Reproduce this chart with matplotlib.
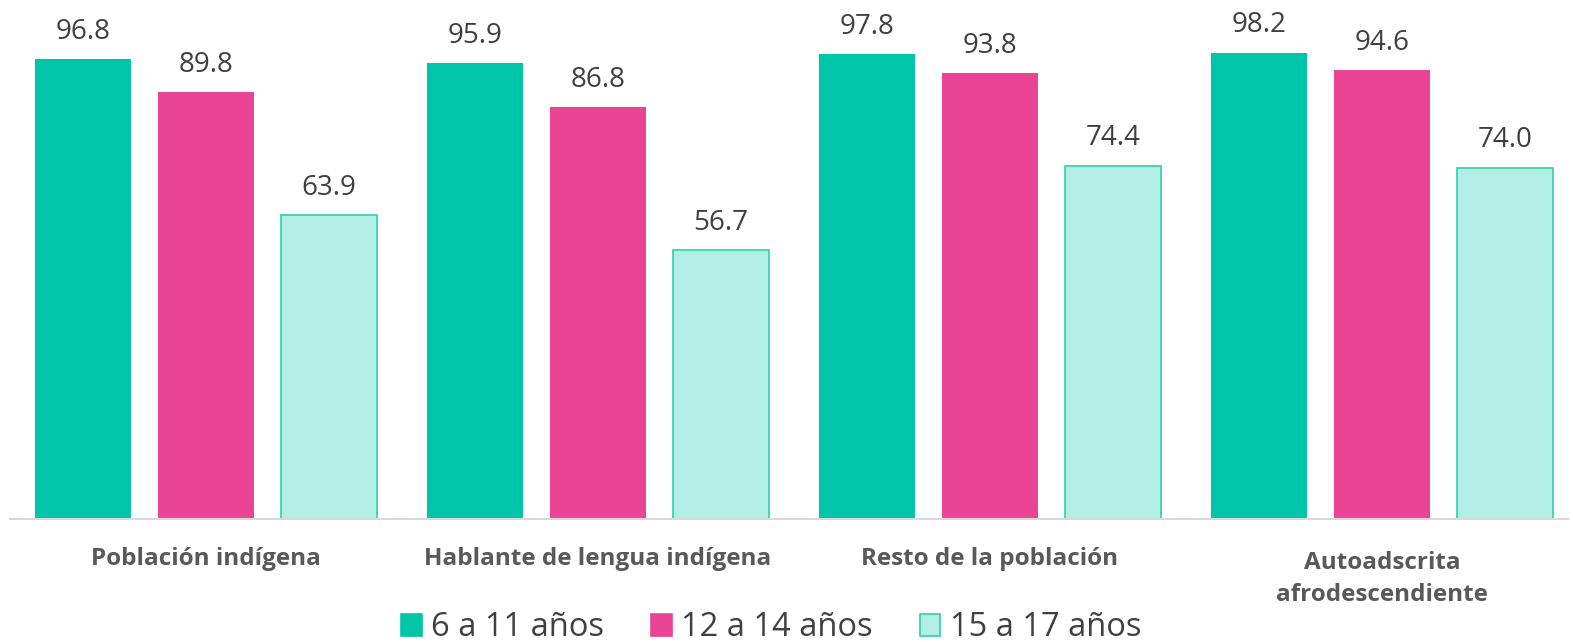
import numpy as np
import matplotlib; matplotlib.use("Agg")
import matplotlib.pyplot as plt
from matplotlib.patches import Patch

categories = ["Población indígena", "Hablante de lengua indígena",
              "Resto de la población", "Autoadscrita\nafrodescendiente"]
series_names = ["6 a 11 años", "12 a 14 años", "15 a 17 años"]
v_6_11 = [96.8, 95.9, 97.8, 98.2]
v_12_14 = [89.8, 86.8, 93.8, 94.6]
v_15_17 = [63.9, 56.7, 74.4, 74.0]

plt.rcParams["font.family"] = ["Open Sans", "DejaVu Sans"]
fills = ["#00C6A7", "#E94496", "#B3EEE4"]
edges = ["#00C6A7", "#E94496", "#2DD0B0"]

fig = plt.figure(figsize=(15.73, 6.42), dpi=100)
ax = fig.add_axes([10 / 1573, 123 / 642, 1558 / 1573, 475 / 642])
x = np.arange(len(categories))
w = 96 / 392; off = 123 / 392
for k, vals in enumerate([v_6_11, v_12_14, v_15_17]):
    bars = ax.bar(x + (k - 1) * off, vals, w, color=fills[k], edgecolor=edges[k],
                  linewidth=1.2 if k == 2 else 0, label=series_names[k])
    for b, v in zip(bars, vals):
        ax.annotate(f"{v:.1f}", (b.get_x() + b.get_width() / 2, v), xytext=(0, 14.5),
                    textcoords="offset points", ha="center", va="baseline",
                    fontsize=20, color="#404040")

ax.set_xlim(-0.5, 3 + 186 / 392); ax.set_ylim(0, 100)
ax.set_yticks([]); ax.set_xticks([])
for s in ["top", "right", "left"]:
    ax.spines[s].set_visible(False)
ax.spines["bottom"].set_color("#D9D9D9"); ax.spines["bottom"].set_linewidth(1.5)
for xi, c in zip(x, categories):
    ax.text(xi, -8.4 if "\n" not in c else -12.6, c, ha="center", va="center",
            fontsize=17.5, fontweight="bold", color="#595959", linespacing=1.45,
            clip_on=False)

handles = [Patch(facecolor=fills[k], edgecolor=edges[k], linewidth=1.2) for k in range(3)]
fig.legend(handles, series_names, loc="center", bbox_to_anchor=(771 / 1573, 14 / 642),
           ncol=3, frameon=False, fontsize=23.5, handlelength=0.64, handleheight=0.62,
           handletextpad=0.28, columnspacing=1.44, borderpad=0, labelcolor="#404040")
fig.savefig("out.png", dpi=100)
